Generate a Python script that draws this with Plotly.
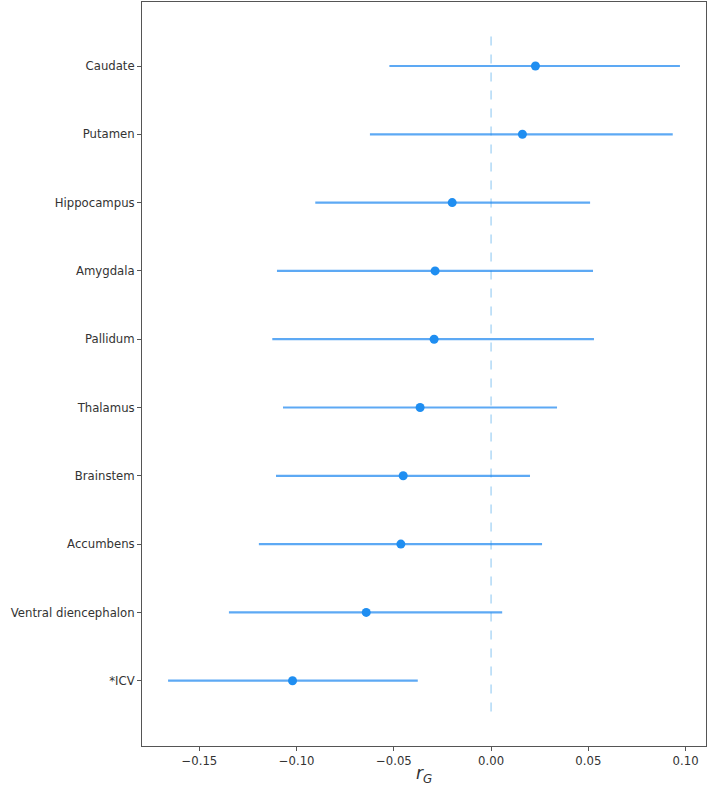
import plotly.graph_objects as go

# regions, bottom to top as drawn
regions = ["*ICV", "Ventral diencephalon", "Accumbens", "Brainstem", "Thalamus",
           "Pallidum", "Amygdala", "Hippocampus", "Putamen", "Caudate"]
rg = [-0.1021, -0.0642, -0.0464, -0.0452, -0.0365, -0.0293, -0.0288, -0.0200, 0.0161, 0.0228]
ciLow = [-0.1661, -0.1348, -0.1194, -0.1106, -0.1070, -0.1125, -0.1101, -0.0904, -0.0623, -0.0523]
ciHigh = [-0.0377, 0.0057, 0.0262, 0.0200, 0.0339, 0.0529, 0.0524, 0.0509, 0.0934, 0.0971]

xTicks = [-0.15, -0.10, -0.05, 0.00, 0.05, 0.10]

fig = go.Figure()

# zero reference line
fig.add_trace(go.Scatter(
    x=[0, 0], y=[-0.45, len(regions) - 1 + 0.45],
    mode="lines",
    line=dict(color="rgba(135,196,240,0.55)", width=1.8, dash="dash"),
    hoverinfo="skip", showlegend=False
))

# confidence intervals
for i, name in enumerate(regions):
    fig.add_trace(go.Scatter(
        x=[ciLow[i], ciHigh[i]], y=[i, i],
        mode="lines",
        line=dict(color="rgba(30,136,240,0.72)", width=2.2),
        hoverinfo="skip", showlegend=False
    ))

fig.add_trace(go.Scatter(
    x=rg, y=list(range(len(regions))),
    mode="markers",
    marker=dict(color="#1f8ef1", size=9),
    text=regions,
    showlegend=False
))

fig.update_layout(
    width=709, height=786,
    margin=dict(l=142, r=3, t=2, b=40),
    paper_bgcolor="white", plot_bgcolor="white",
    font=dict(family="DejaVu Sans", size=11.7, color="#333333"),
)

fig.update_xaxes(
    range=[-0.1795, 0.1105],
    tickvals=xTicks,
    ticktext=["\u22120.15", "\u22120.10", "\u22120.05", "0.00", "0.05", "0.10"],
    ticks="outside", ticklen=4, tickcolor="#555555",
    showgrid=False, zeroline=False,
    showline=True, linecolor="#555555", linewidth=1, mirror=True,
    title=dict(text="<i>r</i><sub><i>G</i></sub>", font=dict(size=17, color="#333333"), standoff=0),
)

fig.update_yaxes(
    range=[-0.956, 9.937],
    tickvals=list(range(len(regions))),
    ticktext=regions,
    ticks="outside", ticklen=4, tickcolor="#555555",
    showgrid=False, zeroline=False,
    showline=True, linecolor="#555555", linewidth=1, mirror=True,
)

# drop the default page margin so the figure sits at the window's corner
fig.write_html("out.html", config={"displayModeBar": False},
               post_script="document.body.style.margin='0';")
